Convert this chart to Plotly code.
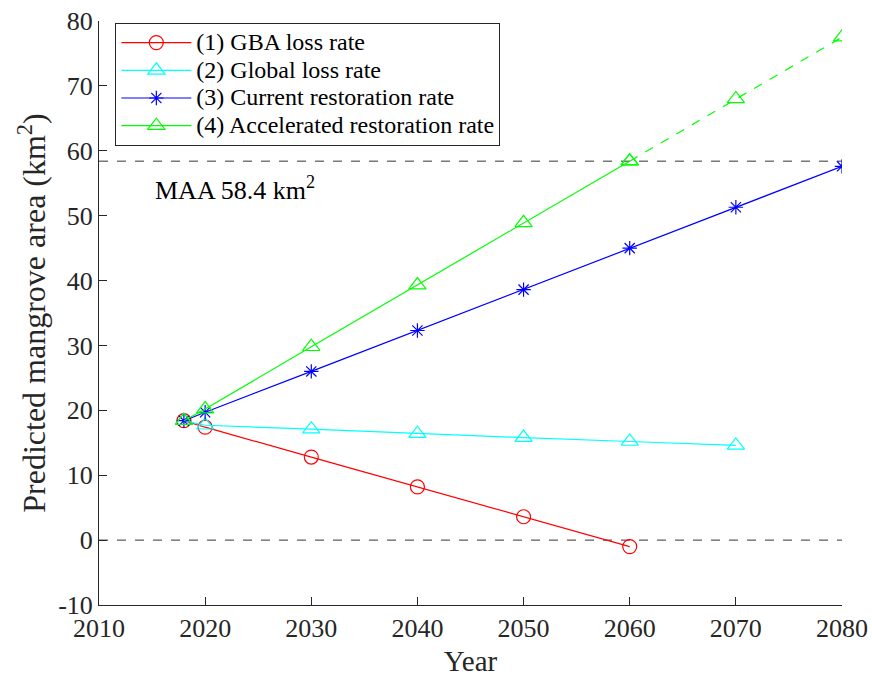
import plotly.graph_objects as go

years_gba = [2018, 2020, 2030, 2040, 2050, 2060]
gba_loss = [18.4, 17.4, 12.8, 8.2, 3.6, -1.0]

years_global = [2018, 2020, 2030, 2040, 2050, 2060, 2070]
global_loss = [18.4, 17.7, 17.1, 16.4, 15.8, 15.2, 14.6]

years_full = [2018, 2020, 2030, 2040, 2050, 2060, 2070, 2080]
current_rest = [18.4, 19.7, 26.0, 32.3, 38.6, 45.0, 51.3, 57.6]
accel_rest = [18.4, 20.2, 29.8, 39.3, 48.9, 58.4, 68.0, 77.5]

series_names = ["(1) GBA loss rate", "(2) Global loss rate",
                "(3) Current restoration rate", "(4) Accelerated restoration rate"]

maa_value = 58.4
x_ticks = [2010, 2020, 2030, 2040, 2050, 2060, 2070, 2080]
y_ticks = [-10, 0, 10, 20, 30, 40, 50, 60, 70, 80]
y_tick_labels = ["-10", "0", "10", "20", "30", "40", "50", "60", "70", "80"]

FONT = "Liberation Serif, Times New Roman, serif"
AX = "#262626"


def lg(name):
    return '<span style="font-size:24px">' + name + '</span>'


fig = go.Figure()

# reference lines
fig.add_trace(go.Scatter(x=[2010, 2080], y=[maa_value, maa_value], mode="lines",
                         line=dict(color="#333333", width=1, dash="dash"), showlegend=False, hoverinfo="skip"))
fig.add_trace(go.Scatter(x=[2010, 2080], y=[0, 0], mode="lines",
                         line=dict(color="#333333", width=1, dash="dash"), showlegend=False, hoverinfo="skip"))

fig.add_trace(go.Scatter(x=years_gba, y=gba_loss, mode="lines+markers", name=lg(series_names[0]),
                         line=dict(color="#FF0000", width=1.2),
                         marker=dict(symbol="circle-open", size=14, color="#FF0000", line=dict(width=1.2))))
fig.add_trace(go.Scatter(x=years_global, y=global_loss, mode="lines+markers", name=lg(series_names[1]),
                         line=dict(color="#00FFFF", width=1.2),
                         marker=dict(symbol="triangle-up-open", size=15, color="#00FFFF", line=dict(width=1.2))))
fig.add_trace(go.Scatter(x=years_full, y=current_rest, mode="lines+markers", name=lg(series_names[2]),
                         line=dict(color="#0000FF", width=1.2),
                         marker=dict(symbol="asterisk-open", size=12, color="#0000FF", line=dict(width=1.2, color="#0000FF"))))
split = years_full.index(2060)
fig.add_trace(go.Scatter(x=years_full[:split + 1], y=accel_rest[:split + 1], mode="lines+markers",
                         name=lg(series_names[3]),
                         line=dict(color="#00FF00", width=1.2),
                         marker=dict(symbol="triangle-up-open", size=15, color="#00FF00", line=dict(width=1.2))))
fig.add_trace(go.Scatter(x=years_full[split:], y=accel_rest[split:], mode="lines+markers", showlegend=False,
                         line=dict(color="#00FF00", width=1.2, dash="dash"),
                         marker=dict(symbol="triangle-up-open", size=15, color="#00FF00", line=dict(width=1.2))))

fig.add_annotation(x=2015.1, y=54.2, xref="x", yref="y", text="MAA 58.4 km<sup>2</sup>",
                   showarrow=False, xanchor="left", yanchor="middle",
                   font=dict(family=FONT, size=26, color="black"))

fig.update_layout(
    width=872, height=683, autosize=False,
    margin=dict(l=99, r=30, t=21, b=78, autoexpand=False),
    paper_bgcolor="white", plot_bgcolor="white",
    font=dict(family=FONT, size=24, color=AX),
    showlegend=True,
    legend=dict(x=0.022, y=0.997, xanchor="left", yanchor="top",
                bgcolor="white", bordercolor=AX, borderwidth=1,
                font=dict(family=FONT, size=19, color="black"),
                tracegroupgap=0, itemwidth=70),
    xaxis=dict(range=[2010, 2080], tickvals=x_ticks, ticks="inside", ticklen=8, automargin=False,
               showline=True, linecolor=AX, linewidth=1, tickcolor=AX, showgrid=False, zeroline=False,
               title=dict(text="Year", font=dict(family=FONT, size=29, color=AX), standoff=8),
               tickfont=dict(family=FONT, size=26, color=AX)),
    yaxis=dict(range=[-10, 80], tickvals=y_ticks, ticktext=y_tick_labels, ticks="inside", ticklen=8,
               automargin=False,
               showline=True, linecolor=AX, linewidth=1, tickcolor=AX, showgrid=False, zeroline=False,
               title=dict(text="Predicted mangrove area (km<sup>2</sup>)", font=dict(family=FONT, size=32, color=AX), standoff=2),
               tickfont=dict(family=FONT, size=26, color=AX)),
)

fig.write_html("out.html", config={"displayModeBar": False},
               post_script="document.body.style.margin='0';document.body.style.overflow='hidden';")
